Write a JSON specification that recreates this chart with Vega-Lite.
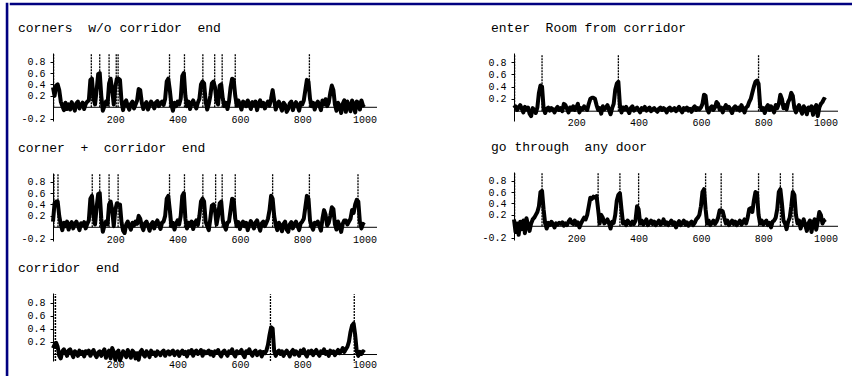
{
 "$schema": "https://vega.github.io/schema/vega-lite/v6.json",
 "padding": {"left": 5, "top": 2, "right": 0, "bottom": 0},
 "background": "white",
 "datasets": {
  "s": [
{"x":0,"a":0.35,"b":0.1,"c":0.1,"d":0.05,"e":0.12},
{"x":5,"a":0.2,"b":0.42,"c":0.15,"d":0.08,"e":-0.1},
{"x":10,"a":0.38,"b":0.45,"c":0.18,"d":0.02,"e":0.05},
{"x":15,"a":0.4,"b":0.45,"c":0.12,"d":0.06,"e":-0.15},
{"x":20,"a":0.3,"b":0.2,"c":-0.02,"d":0.1,"e":0.08},
{"x":25,"a":0.1,"b":0.05,"c":-0.06,"d":0.04,"e":-0.05},
{"x":30,"a":0.02,"b":-0.05,"c":0.05,"d":-0.02,"e":0.1},
{"x":35,"a":-0.05,"b":0.08,"c":0.08,"d":0.07,"e":-0.12},
{"x":40,"a":0.08,"b":0.02,"c":0.03,"d":0.03,"e":0.14},
{"x":45,"a":-0.03,"b":0.1,"c":-0.02,"d":0.06,"e":0.02},
{"x":50,"a":0.05,"b":-0.04,"c":0.06,"d":-0.04,"e":-0.08},
{"x":55,"a":-0.04,"b":0.05,"c":0.08,"d":-0.08,"e":0.05},
{"x":60,"a":0.09,"b":0.09,"c":0.02,"d":0.05,"e":0.12},
{"x":65,"a":0.02,"b":-0.02,"c":-0.04,"d":0.02,"e":0.15},
{"x":70,"a":-0.06,"b":0.06,"c":0.05,"d":-0.03,"e":0.2},
{"x":75,"a":0.07,"b":0.1,"c":0.03,"d":0.06,"e":0.25},
{"x":80,"a":0.1,"b":0.03,"c":-0.02,"d":0.3,"e":0.35},
{"x":85,"a":-0.02,"b":-0.05,"c":0.06,"d":0.42,"e":0.6},
{"x":90,"a":0.04,"b":0.07,"c":0.01,"d":0.4,"e":0.62},
{"x":95,"a":0.08,"b":0.04,"c":0.04,"d":0.05,"e":0.3},
{"x":100,"a":-0.03,"b":0.09,"c":-0.03,"d":-0.03,"e":0.05},
{"x":105,"a":0.06,"b":-0.02,"c":0.05,"d":0.04,"e":-0.04},
{"x":110,"a":0.1,"b":0.06,"c":0.02,"d":0.06,"e":0.06},
{"x":115,"a":0.12,"b":0.12,"c":0.06,"d":0.01,"e":0.02},
{"x":120,"a":0.48,"b":0.5,"c":-0.02,"d":0.05,"e":0.08},
{"x":125,"a":0.5,"b":0.55,"c":0.03,"d":0.03,"e":0.04},
{"x":130,"a":0.15,"b":0.2,"c":0.07,"d":-0.02,"e":-0.02},
{"x":135,"a":0.05,"b":0.05,"c":0,"d":0.04,"e":0.05},
{"x":140,"a":0.3,"b":0.35,"c":-0.04,"d":0.07,"e":0.03},
{"x":145,"a":0.58,"b":0.58,"c":0.03,"d":0.02,"e":0.06},
{"x":150,"a":0.6,"b":0.6,"c":0.05,"d":0.05,"e":0.04},
{"x":155,"a":0.2,"b":0.15,"c":-0.02,"d":0,"e":0.07},
{"x":160,"a":-0.06,"b":-0.08,"c":0.04,"d":0.12,"e":0.01},
{"x":165,"a":0.02,"b":0.03,"c":0.08,"d":0.1,"e":0.05},
{"x":170,"a":0.1,"b":0.1,"c":-0.05,"d":0.04,"e":0.02},
{"x":175,"a":0.05,"b":0.05,"c":0.02,"d":-0.02,"e":0.08},
{"x":180,"a":0.42,"b":0.4,"c":0.06,"d":0.06,"e":0.12},
{"x":185,"a":0.5,"b":0.45,"c":-0.06,"d":0.03,"e":0.06},
{"x":190,"a":0.3,"b":0.3,"c":0.1,"d":0.08,"e":0.04},
{"x":195,"a":0.05,"b":0.02,"c":0.04,"d":0.02,"e":0.1},
{"x":200,"a":0.35,"b":0.3,"c":-0.08,"d":0.06,"e":0.03},
{"x":205,"a":0.5,"b":0.42,"c":0.03,"d":0.12,"e":0.07},
{"x":210,"a":0.5,"b":0.4,"c":0.06,"d":-0.02,"e":-0.02},
{"x":215,"a":0.48,"b":0.4,"c":-0.09,"d":0.05,"e":0.05},
{"x":220,"a":0.1,"b":0.08,"c":-0.03,"d":0.03,"e":0.1},
{"x":225,"a":-0.05,"b":-0.06,"c":0.05,"d":0.08,"e":0.15},
{"x":230,"a":0.08,"b":-0.1,"c":0.02,"d":0.04,"e":0.12},
{"x":235,"a":0.12,"b":0.05,"c":-0.04,"d":0.02,"e":0.2},
{"x":240,"a":0.02,"b":0.1,"c":0.07,"d":0.12,"e":0.35},
{"x":245,"a":-0.04,"b":0.02,"c":0.01,"d":0.2,"e":0.5},
{"x":250,"a":0.06,"b":-0.04,"c":-0.05,"d":0.22,"e":0.48},
{"x":255,"a":0.1,"b":0.08,"c":0.06,"d":0.22,"e":0.52},
{"x":260,"a":-0.02,"b":0.03,"c":0.03,"d":0.2,"e":0.5},
{"x":265,"a":0.05,"b":0.1,"c":-0.06,"d":0.1,"e":0.53},
{"x":270,"a":0.12,"b":0.06,"c":0.02,"d":0.02,"e":0.3},
{"x":275,"a":0.32,"b":0.2,"c":-0.08,"d":0.05,"e":0.05},
{"x":280,"a":0.3,"b":0.15,"c":0.04,"d":-0.04,"e":0.2},
{"x":285,"a":0.08,"b":0.02,"c":0.07,"d":0.08,"e":0.15},
{"x":290,"a":-0.03,"b":-0.05,"c":0,"d":0.03,"e":0.05},
{"x":295,"a":0.05,"b":0.07,"c":-0.03,"d":0.06,"e":0.08},
{"x":300,"a":0.09,"b":0.1,"c":0.05,"d":0.1,"e":0.12},
{"x":305,"a":-0.04,"b":0.03,"c":0.02,"d":0.02,"e":0.05},
{"x":310,"a":0.03,"b":-0.06,"c":-0.04,"d":-0.05,"e":-0.04},
{"x":315,"a":0.1,"b":0.05,"c":0.06,"d":0.05,"e":0.08},
{"x":320,"a":0.06,"b":0.09,"c":0.01,"d":0.12,"e":0.06},
{"x":325,"a":-0.02,"b":-0.02,"c":0.03,"d":0.35,"e":0.2},
{"x":330,"a":0.08,"b":0.07,"c":-0.02,"d":0.45,"e":0.45},
{"x":335,"a":0.11,"b":0.12,"c":0.05,"d":0.48,"e":0.55},
{"x":340,"a":0.02,"b":0.04,"c":0.02,"d":0.1,"e":0.58},
{"x":345,"a":0.07,"b":-0.03,"c":-0.01,"d":-0.02,"e":0.3},
{"x":350,"a":0.1,"b":0.08,"c":0.04,"d":0.06,"e":0.05},
{"x":355,"a":0.04,"b":0.1,"c":0.06,"d":0.03,"e":0.08},
{"x":360,"a":0.15,"b":0.2,"c":-0.02,"d":0.07,"e":0.02},
{"x":365,"a":0.45,"b":0.5,"c":0.03,"d":0.02,"e":0.1},
{"x":370,"a":0.5,"b":0.55,"c":0.05,"d":-0.03,"e":0.06},
{"x":375,"a":0.3,"b":0.3,"c":0,"d":0.05,"e":0.03},
{"x":380,"a":0.05,"b":0.02,"c":0.04,"d":0.08,"e":0.08},
{"x":385,"a":-0.06,"b":0.08,"c":0.06,"d":0.01,"e":0.04},
{"x":390,"a":0.08,"b":-0.04,"c":-0.01,"d":0.04,"e":0.1},
{"x":395,"a":0.02,"b":0.06,"c":0.03,"d":0.06,"e":0.35},
{"x":400,"a":0.1,"b":0.12,"c":0.05,"d":0.02,"e":0.3},
{"x":405,"a":0.05,"b":0.05,"c":-0.02,"d":-0.02,"e":0.05},
{"x":410,"a":0.15,"b":0.2,"c":0.03,"d":0.05,"e":0.1},
{"x":415,"a":0.55,"b":0.55,"c":0.06,"d":0.03,"e":0.03},
{"x":420,"a":0.6,"b":0.6,"c":0.01,"d":0.07,"e":0.07},
{"x":425,"a":0.2,"b":0.15,"c":0.04,"d":0.01,"e":0.12},
{"x":430,"a":0.02,"b":-0.02,"c":-0.03,"d":0.04,"e":0.02},
{"x":435,"a":0.1,"b":0.08,"c":0.05,"d":0.06,"e":0.06},
{"x":440,"a":-0.03,"b":0.03,"c":0.02,"d":0,"e":0.1},
{"x":445,"a":0.07,"b":0.1,"c":0.07,"d":0.03,"e":0.04},
{"x":450,"a":0.12,"b":-0.03,"c":-0.02,"d":0.05,"e":0.08},
{"x":455,"a":0.04,"b":0.07,"c":0.04,"d":0.02,"e":0.02},
{"x":460,"a":-0.02,"b":0.12,"c":0.06,"d":-0.01,"e":0.06},
{"x":465,"a":0.08,"b":0.04,"c":0.01,"d":0.04,"e":0.1},
{"x":470,"a":0.15,"b":0.2,"c":0.03,"d":0.06,"e":0.03},
{"x":475,"a":0.4,"b":0.45,"c":0.07,"d":0.02,"e":0.05},
{"x":480,"a":0.45,"b":0.5,"c":-0.02,"d":0.05,"e":0.12},
{"x":485,"a":0.42,"b":0.45,"c":0.05,"d":0.03,"e":0.04},
{"x":490,"a":0.1,"b":0.1,"c":0.02,"d":-0.02,"e":0.07},
{"x":495,"a":-0.04,"b":0.02,"c":0.04,"d":0.04,"e":0.02},
{"x":500,"a":0.06,"b":-0.05,"c":0.06,"d":0.06,"e":0.06},
{"x":505,"a":0.2,"b":0.15,"c":0,"d":0.01,"e":0.1},
{"x":510,"a":0.42,"b":0.38,"c":0.04,"d":0.03,"e":0.03},
{"x":515,"a":0.45,"b":0.4,"c":-0.02,"d":0.05,"e":0.07},
{"x":520,"a":0.35,"b":0.3,"c":0.05,"d":0,"e":-0.02},
{"x":525,"a":0.1,"b":0.05,"c":0.03,"d":0.04,"e":0.05},
{"x":530,"a":0.05,"b":0.2,"c":0.07,"d":0.07,"e":0.09},
{"x":535,"a":0.38,"b":0.42,"c":0.01,"d":0.02,"e":0.02},
{"x":540,"a":0.4,"b":0.45,"c":-0.03,"d":-0.02,"e":0.06},
{"x":545,"a":0.15,"b":0.12,"c":0.04,"d":0.05,"e":0.1},
{"x":550,"a":0.02,"b":0.03,"c":0.06,"d":0.03,"e":0.03},
{"x":555,"a":0.08,"b":-0.04,"c":0.02,"d":0.06,"e":0.07},
{"x":560,"a":-0.03,"b":0.08,"c":-0.02,"d":0.01,"e":0.01},
{"x":565,"a":0.1,"b":0.1,"c":0.05,"d":0.04,"e":0.05},
{"x":570,"a":0.35,"b":0.3,"c":0.03,"d":-0.01,"e":0.08},
{"x":575,"a":0.5,"b":0.5,"c":0.08,"d":0.05,"e":0.02},
{"x":580,"a":0.48,"b":0.48,"c":0.01,"d":0.08,"e":0.06},
{"x":585,"a":0.2,"b":0.15,"c":-0.03,"d":0.02,"e":0.12},
{"x":590,"a":0.03,"b":0.02,"c":0.05,"d":0.05,"e":0.15},
{"x":595,"a":0.12,"b":0.09,"c":0.02,"d":0.03,"e":0.2},
{"x":600,"a":0.05,"b":-0.03,"c":0.04,"d":0.06,"e":0.35},
{"x":605,"a":-0.04,"b":0.06,"c":0.07,"d":0.12,"e":0.6},
{"x":610,"a":0.1,"b":0.1,"c":0,"d":0.27,"e":0.65},
{"x":615,"a":0.08,"b":0.02,"c":-0.04,"d":0.25,"e":0.3},
{"x":620,"a":0.02,"b":0.08,"c":0.05,"d":0.03,"e":0.05},
{"x":625,"a":0.12,"b":-0.05,"c":0.03,"d":-0.02,"e":0.1},
{"x":630,"a":0.06,"b":0.04,"c":0.08,"d":0.05,"e":0.02},
{"x":635,"a":-0.03,"b":0.11,"c":0.02,"d":0.08,"e":0.06},
{"x":640,"a":0.09,"b":0.05,"c":-0.02,"d":0.02,"e":0.1},
{"x":645,"a":0.04,"b":-0.02,"c":0.04,"d":0.06,"e":0.04},
{"x":650,"a":0.1,"b":0.08,"c":0.06,"d":0.15,"e":0.08},
{"x":655,"a":-0.05,"b":0.12,"c":-0.01,"d":0.12,"e":0.15},
{"x":660,"a":0.06,"b":0.03,"c":0.03,"d":0.03,"e":0.28},
{"x":665,"a":0.12,"b":-0.06,"c":0.05,"d":0.06,"e":0.28},
{"x":670,"a":0.02,"b":0.07,"c":-0.03,"d":-0.02,"e":0.26},
{"x":675,"a":0.08,"b":0.1,"c":0.04,"d":0.05,"e":0.15},
{"x":680,"a":-0.02,"b":0.02,"c":0.02,"d":0.1,"e":0.05},
{"x":685,"a":0.05,"b":0.08,"c":0.06,"d":0.04,"e":0.1},
{"x":690,"a":0.1,"b":0.15,"c":0.15,"d":0.07,"e":0.02},
{"x":695,"a":0.03,"b":0.3,"c":0.3,"d":0.02,"e":0.06},
{"x":700,"a":0.15,"b":0.55,"c":0.42,"d":-0.03,"e":0.1},
{"x":705,"a":0.3,"b":0.5,"c":0.4,"d":0.05,"e":0.04},
{"x":710,"a":0.12,"b":0.2,"c":0.05,"d":0.08,"e":0.08},
{"x":715,"a":-0.04,"b":0.04,"c":-0.02,"d":0.03,"e":0.02},
{"x":720,"a":0.06,"b":-0.05,"c":0.04,"d":0.06,"e":0.06},
{"x":725,"a":0.1,"b":0.08,"c":0.06,"d":0.01,"e":0.1},
{"x":730,"a":0.02,"b":0.03,"c":0.01,"d":0.1,"e":0.03},
{"x":735,"a":-0.06,"b":-0.07,"c":0.05,"d":0.04,"e":0.07},
{"x":740,"a":0.08,"b":0.06,"c":-0.02,"d":-0.02,"e":0.12},
{"x":745,"a":0.04,"b":0.1,"c":0.03,"d":0.06,"e":0.05},
{"x":750,"a":-0.08,"b":-0.04,"c":0.06,"d":0.08,"e":0.15},
{"x":755,"a":-0.03,"b":-0.08,"c":0.02,"d":0.15,"e":0.3},
{"x":760,"a":0.07,"b":0.05,"c":-0.03,"d":0.2,"e":0.32},
{"x":765,"a":0.1,"b":0.09,"c":0.04,"d":0.3,"e":0.25},
{"x":770,"a":-0.05,"b":-0.02,"c":0.07,"d":0.4,"e":0.45},
{"x":775,"a":0.04,"b":0.06,"c":0,"d":0.48,"e":0.6},
{"x":780,"a":0.09,"b":0.1,"c":0.05,"d":0.5,"e":0.58},
{"x":785,"a":0.02,"b":0.02,"c":0.02,"d":0.45,"e":0.2},
{"x":790,"a":-0.06,"b":-0.05,"c":-0.02,"d":0.1,"e":0.05},
{"x":795,"a":0.08,"b":0.07,"c":0.06,"d":0.02,"e":0.1},
{"x":800,"a":0.05,"b":0.1,"c":0.03,"d":0.05,"e":0.03},
{"x":805,"a":0.12,"b":0.15,"c":0.08,"d":-0.03,"e":0.07},
{"x":810,"a":0.3,"b":0.35,"c":0.01,"d":0.06,"e":0.1},
{"x":815,"a":0.48,"b":0.55,"c":-0.03,"d":0.1,"e":0.02},
{"x":820,"a":0.45,"b":0.5,"c":0.05,"d":0.02,"e":0.06},
{"x":825,"a":0.15,"b":0.12,"c":0.02,"d":0.08,"e":-0.02},
{"x":830,"a":0.02,"b":0.02,"c":0.06,"d":0.04,"e":0.08},
{"x":835,"a":0.08,"b":-0.04,"c":-0.01,"d":-0.02,"e":0.1},
{"x":840,"a":-0.04,"b":0.08,"c":0.04,"d":0.1,"e":0.15},
{"x":845,"a":0.06,"b":0.05,"c":0.07,"d":0.05,"e":0.3},
{"x":850,"a":0.1,"b":0.1,"c":0.02,"d":0.12,"e":0.6},
{"x":855,"a":0.03,"b":0.02,"c":-0.02,"d":0.27,"e":0.65},
{"x":860,"a":-0.05,"b":-0.06,"c":0.05,"d":0.2,"e":0.4},
{"x":865,"a":0.12,"b":0.15,"c":0.03,"d":0.05,"e":0.1},
{"x":870,"a":0.05,"b":0.3,"c":0.08,"d":0.1,"e":0.05},
{"x":875,"a":0.14,"b":0.22,"c":0.01,"d":0.03,"e":-0.05},
{"x":880,"a":0.02,"b":0.03,"c":0.04,"d":0.15,"e":0.08},
{"x":885,"a":0.08,"b":0.08,"c":-0.02,"d":0.2,"e":0.15},
{"x":890,"a":0.25,"b":0.2,"c":0.06,"d":0.3,"e":0.35},
{"x":895,"a":0.38,"b":0.35,"c":0.03,"d":0.25,"e":0.6},
{"x":900,"a":0.3,"b":0.32,"c":0.05,"d":0.05,"e":0.55},
{"x":905,"a":0.05,"b":0.05,"c":-0.01,"d":-0.02,"e":0.2},
{"x":910,"a":-0.06,"b":-0.04,"c":0.04,"d":0.06,"e":0.05},
{"x":915,"a":0.08,"b":0.1,"c":0.07,"d":0.1,"e":0.1},
{"x":920,"a":0.02,"b":0.02,"c":0.02,"d":0.02,"e":-0.04},
{"x":925,"a":-0.1,"b":-0.08,"c":0.05,"d":-0.04,"e":0.06},
{"x":930,"a":0.06,"b":0.06,"c":0.1,"d":0.08,"e":0.12},
{"x":935,"a":0.12,"b":0.12,"c":0.04,"d":0.04,"e":0.02},
{"x":940,"a":-0.08,"b":0.12,"c":0.08,"d":-0.05,"e":-0.08},
{"x":945,"a":0.1,"b":0.05,"c":0.12,"d":0.06,"e":0.05},
{"x":950,"a":0.02,"b":0.1,"c":0.2,"d":0.02,"e":0.1},
{"x":955,"a":-0.07,"b":0.15,"c":0.35,"d":0.08,"e":-0.1},
{"x":960,"a":0.12,"b":0.3,"c":0.45,"d":-0.06,"e":0.06},
{"x":965,"a":0.05,"b":0.25,"c":0.48,"d":0.05,"e":0.12},
{"x":970,"a":-0.09,"b":0.4,"c":0.3,"d":0.1,"e":-0.06},
{"x":975,"a":0.1,"b":0.48,"c":0.05,"d":-0.08,"e":0.08},
{"x":980,"a":0.08,"b":0.45,"c":-0.02,"d":0.06,"e":0.25},
{"x":985,"a":-0.04,"b":0.1,"c":0.04,"d":0.12,"e":0.2},
{"x":990,"a":0.12,"b":-0.02,"c":0.01,"d":0.15,"e":0.05},
{"x":995,"a":0.03,"b":0.06,"c":0.05,"d":0.2,"e":0.1},
{"x":1000,"a":0.05,"b":0.04,"c":0.03,"d":0.18,"e":0.12}
  ],
  "ev": [
{"p":"a","x":2},{"p":"a","x":123},{"p":"a","x":150},{"p":"a","x":180},{"p":"a","x":203},{"p":"a","x":209},{"p":"a","x":374},{"p":"a","x":422},{"p":"a","x":481},{"p":"a","x":519},{"p":"a","x":543},{"p":"a","x":585},{"p":"a","x":823},
{"p":"b","x":3},{"p":"b","x":16},{"p":"b","x":126},{"p":"b","x":150},{"p":"b","x":180},{"p":"b","x":209},{"p":"b","x":374},{"p":"b","x":422},{"p":"b","x":481},{"p":"b","x":522},{"p":"b","x":543},{"p":"b","x":585},{"p":"b","x":705},{"p":"b","x":823},{"p":"b","x":979},
{"p":"c","x":2},{"p":"c","x":8},{"p":"c","x":698},{"p":"c","x":967},
{"p":"d","x":2},{"p":"d","x":90},{"p":"d","x":335},{"p":"d","x":785},
{"p":"e","x":2},{"p":"e","x":90},{"p":"e","x":270},{"p":"e","x":340},{"p":"e","x":400},{"p":"e","x":615},{"p":"e","x":665},{"p":"e","x":785},{"p":"e","x":855},{"p":"e","x":895}
  ]
 },
 "config": {
  "view": {"stroke": null},
  "font": "Liberation Mono",
  "axis": {"labelFont": "Liberation Mono", "labelFontSize": 10, "labelColor": "black", "domainColor": "black", "tickColor": "black", "grid": false, "title": null, "labelFlush": false},
  "axisY": {"labelOverlap": false, "tickCount": 12},
  "axisX": {"tickCount": 12},
  "title": {"font": "Liberation Mono", "fontSize": 13, "fontWeight": "normal", "color": "black"}
 },
 "spacing": 0,
 "hconcat": [
  {"data": {"values": []}, "mark": {"type": "point", "opacity": 0}, "width": 0.1, "height": 400, "view": {"stroke": "#000080", "strokeWidth": 2.5}},
  {"spacing": 16, "vconcat": [
   {"data": {"values": []}, "mark": {"type": "point", "opacity": 0}, "width": 846, "height": 0.1, "view": {"stroke": "#000080", "strokeWidth": 2.5}},
   {"spacing": 6, "hconcat": [
    {"data": {"values": []}, "mark": {"type": "point", "opacity": 0}, "width": 0.1, "height": 0.1},
    {"spacing": 103, "hconcat": [
     {"spacing": 18, "vconcat": [
      {"width": 324, "height": 68,
       "title": {"text": "corners\u00a0\u00a0w/o corridor\u00a0\u00a0end", "anchor": "start", "frame": "group", "dx": -35, "offset": 18},
       "layer": [
        {"data": {"name": "s"}, "mark": {"type": "line", "color": "black", "strokeWidth": 4, "strokeJoin": "round"},
         "encoding": {
          "x": {"field": "x", "type": "quantitative", "scale": {"domain": [0, 1040], "nice": false, "zero": false}, "axis": {"values": [200, 400, 600, 800, 1000], "tickCount": 12, "format": "d", "ticks": false, "domain": false, "labelBaseline": "middle", "labelPadding": -2}},
          "y": {"field": "a", "type": "quantitative", "scale": {"domain": [-0.24, 0.95], "nice": false, "zero": false}, "axis": {"values": [-0.2, 0.2, 0.4, 0.6, 0.8], "tickCount": 12, "tickSize": 3, "labelPadding": 5, "labelOverlap": false, "labelExpr": "replace(format(datum.value, '.1f'), '\u2212', '-')"}}
         }},
        {"data": {"values": [{}]}, "mark": {"type": "rule", "color": "black", "strokeWidth": 1}, "encoding": {"y": {"datum": 0, "type": "quantitative"}}},
        {"data": {"name": "ev"}, "transform": [{"filter": "datum.p == 'a'"}], "mark": {"type": "rule", "color": "black", "strokeWidth": 1.3, "strokeDash": [2, 1]}, "encoding": {"x": {"field": "x", "type": "quantitative"}, "y": {"datum": 0, "type": "quantitative"}, "y2": {"datum": 0.93}}}
       ]},
      {"width": 324, "height": 68,
       "title": {"text": "corner\u00a0\u00a0+\u00a0\u00a0corridor\u00a0\u00a0end", "anchor": "start", "frame": "group", "dx": -35, "offset": 18},
       "layer": [
        {"data": {"name": "s"}, "mark": {"type": "line", "color": "black", "strokeWidth": 4, "strokeJoin": "round"},
         "encoding": {
          "x": {"field": "x", "type": "quantitative", "scale": {"domain": [0, 1040], "nice": false, "zero": false}, "axis": {"values": [200, 400, 600, 800, 1000], "tickCount": 12, "format": "d", "ticks": false, "domain": false, "labelBaseline": "middle", "labelPadding": -2}},
          "y": {"field": "b", "type": "quantitative", "scale": {"domain": [-0.24, 0.95], "nice": false, "zero": false}, "axis": {"values": [-0.2, 0.2, 0.4, 0.6, 0.8], "tickCount": 12, "tickSize": 3, "labelPadding": 5, "labelOverlap": false, "labelExpr": "replace(format(datum.value, '.1f'), '\u2212', '-')"}}
         }},
        {"data": {"values": [{}]}, "mark": {"type": "rule", "color": "black", "strokeWidth": 1}, "encoding": {"y": {"datum": 0, "type": "quantitative"}}},
        {"data": {"name": "ev"}, "transform": [{"filter": "datum.p == 'b'"}], "mark": {"type": "rule", "color": "black", "strokeWidth": 1.3, "strokeDash": [2, 1]}, "encoding": {"x": {"field": "x", "type": "quantitative"}, "y": {"datum": 0, "type": "quantitative"}, "y2": {"datum": 0.93}}}
       ]},
      {"width": 324, "height": 68,
       "title": {"text": "corridor\u00a0\u00a0end", "anchor": "start", "frame": "group", "dx": -35, "offset": 18},
       "layer": [
        {"data": {"name": "s"}, "mark": {"type": "line", "color": "black", "strokeWidth": 4, "strokeJoin": "round"},
         "encoding": {
          "x": {"field": "x", "type": "quantitative", "scale": {"domain": [0, 1040], "nice": false, "zero": false}, "axis": {"values": [200, 400, 600, 800, 1000], "tickCount": 12, "format": "d", "ticks": false, "domain": false, "labelBaseline": "middle", "labelPadding": 3}},
          "y": {"field": "c", "type": "quantitative", "scale": {"domain": [-0.1, 0.95], "nice": false, "zero": false}, "axis": {"values": [0.2, 0.4, 0.6, 0.8], "tickCount": 12, "tickSize": 3, "labelPadding": 5, "labelOverlap": false, "format": ".1f"}}
         }},
        {"data": {"values": [{}]}, "mark": {"type": "rule", "color": "black", "strokeWidth": 1}, "encoding": {"y": {"datum": 0, "type": "quantitative"}}},
        {"data": {"name": "ev"}, "transform": [{"filter": "datum.p == 'c'"}], "mark": {"type": "rule", "color": "black", "strokeWidth": 1.3, "strokeDash": [2, 1]}, "encoding": {"x": {"field": "x", "type": "quantitative"}, "y": {"datum": -0.1, "type": "quantitative"}, "y2": {"datum": 0.93}}}
       ]}
     ]},
     {"spacing": 14, "vconcat": [
      {"width": 324, "height": 68,
       "title": {"text": "enter\u00a0\u00a0Room from corridor", "anchor": "start", "frame": "group", "dx": -23, "offset": 18},
       "layer": [
        {"data": {"name": "s"}, "mark": {"type": "line", "color": "black", "strokeWidth": 4, "strokeJoin": "round"},
         "encoding": {
          "x": {"field": "x", "type": "quantitative", "scale": {"domain": [0, 1040], "nice": false, "zero": false}, "axis": {"values": [200, 400, 600, 800, 1000], "tickCount": 12, "format": "d", "ticks": false, "domain": false, "labelBaseline": "middle", "labelPadding": 1}},
          "y": {"field": "d", "type": "quantitative", "scale": {"domain": [-0.16, 0.95], "nice": false, "zero": false}, "axis": {"values": [0.2, 0.4, 0.6, 0.8], "tickCount": 12, "tickSize": 3, "labelPadding": 5, "labelOverlap": false, "format": ".1f"}}
         }},
        {"data": {"values": [{}]}, "mark": {"type": "rule", "color": "black", "strokeWidth": 1}, "encoding": {"y": {"datum": 0, "type": "quantitative"}}},
        {"data": {"name": "ev"}, "transform": [{"filter": "datum.p == 'd'"}], "mark": {"type": "rule", "color": "black", "strokeWidth": 1.3, "strokeDash": [2, 1]}, "encoding": {"x": {"field": "x", "type": "quantitative"}, "y": {"datum": 0, "type": "quantitative"}, "y2": {"datum": 0.93}}}
       ]},
      {"width": 324, "height": 68,
       "title": {"text": "go through\u00a0\u00a0any door", "anchor": "start", "frame": "group", "dx": -23, "offset": 18},
       "layer": [
        {"data": {"name": "s"}, "mark": {"type": "line", "color": "black", "strokeWidth": 4, "strokeJoin": "round"},
         "encoding": {
          "x": {"field": "x", "type": "quantitative", "scale": {"domain": [0, 1040], "nice": false, "zero": false}, "axis": {"values": [200, 400, 600, 800, 1000], "tickCount": 12, "format": "d", "ticks": false, "domain": false, "labelBaseline": "middle", "labelPadding": -2}},
          "y": {"field": "e", "type": "quantitative", "scale": {"domain": [-0.24, 0.95], "nice": false, "zero": false}, "axis": {"values": [-0.2, 0.2, 0.4, 0.6, 0.8], "tickCount": 12, "tickSize": 3, "labelPadding": 5, "labelOverlap": false, "labelExpr": "replace(format(datum.value, '.1f'), '\u2212', '-')"}}
         }},
        {"data": {"values": [{}]}, "mark": {"type": "rule", "color": "black", "strokeWidth": 1}, "encoding": {"y": {"datum": 0, "type": "quantitative"}}},
        {"data": {"name": "ev"}, "transform": [{"filter": "datum.p == 'e'"}], "mark": {"type": "rule", "color": "black", "strokeWidth": 1.3, "strokeDash": [2, 1]}, "encoding": {"x": {"field": "x", "type": "quantitative"}, "y": {"datum": 0, "type": "quantitative"}, "y2": {"datum": 0.93}}}
       ]}
     ]}
    ]}
   ]}
  ]}
 ]
}
